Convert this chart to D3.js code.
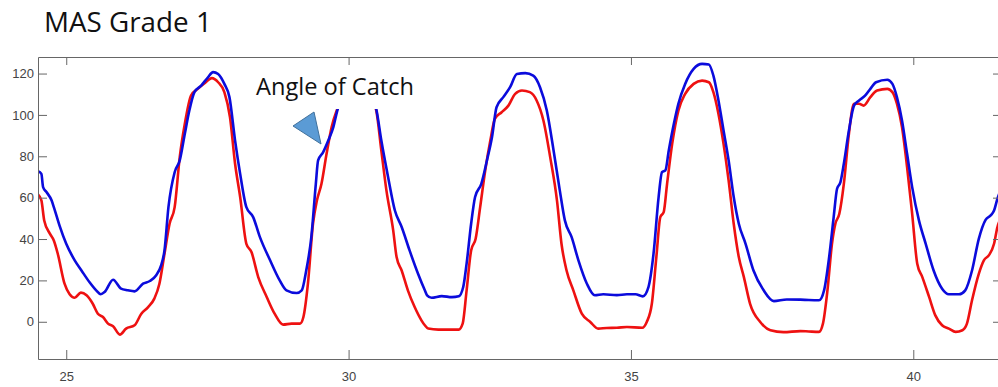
<!DOCTYPE html>
<html>
<head>
<meta charset="utf-8">
<script src="https://cdn.jsdelivr.net/npm/d3@7"></script>
<style>
  html, body { margin: 0; padding: 0; background: #fff; }
  svg { display: block; }
  .axis path, .axis line { stroke: #666; }
  .axis text { fill: #444; font-family: "Liberation Sans", Arial, sans-serif; font-size: 13px; }
</style>
</head>
<body>
<script>
// time (s) and angle (deg)
const blueT = [24.5,24.56,24.59,24.65,24.74,24.79,24.88,25.0,25.15,25.27,25.41,25.53,25.61,25.68,25.83,25.97,26.09,26.21,26.36,26.48,26.59,26.68,26.74,26.81,26.92,27.01,27.1,27.18,27.27,27.39,27.51,27.6,27.69,27.8,27.89,27.99,28.08,28.19,28.31,28.43,28.61,28.78,28.9,29.08,29.17,29.25,29.34,29.42,29.46,29.55,29.64,29.73,29.8,29.9,30.0,30.15,30.3,30.4,30.49,30.58,30.7,30.82,30.94,31.08,31.23,31.35,31.39,31.47,31.65,31.83,31.95,32.03,32.09,32.17,32.24,32.35,32.45,32.54,32.62,32.74,32.86,32.98,33.13,33.27,33.39,33.51,33.63,33.74,33.83,33.95,34.07,34.22,34.36,34.51,34.75,34.93,35.08,35.21,35.31,35.4,35.49,35.55,35.61,35.67,35.76,35.84,35.96,36.11,36.26,36.38,36.46,36.55,36.64,36.73,36.82,36.91,37.03,37.17,37.35,37.53,37.76,38.0,38.15,38.33,38.42,38.51,38.59,38.65,38.71,38.77,38.86,38.95,39.04,39.15,39.24,39.34,39.54,39.63,39.71,39.8,39.89,39.98,40.1,40.22,40.36,40.51,40.63,40.81,40.92,41.04,41.16,41.28,41.37,41.43,41.49,41.55]
const blueV = [72.8,71.5,65.1,62.7,58.7,54.6,46.6,37.7,29.7,24.8,19.2,15.2,13.3,14.4,20.3,16.0,15.2,14.7,18.4,19.7,22.4,27.3,34.5,55.4,72.3,78.0,90.9,102.1,111.0,114.2,118.2,120.7,119.8,115.0,108.6,87.6,71.5,55.4,50.6,40.9,29.7,20.0,15.2,13.9,15.2,24.8,40.9,66.7,78.0,82.0,87.6,94.1,102.1,110,117,120,117,110,102.9,87.6,69.9,53.8,45.8,34.5,23.2,15.2,12.8,11.6,12.4,11.9,12.3,16.8,28.1,47.4,60.3,66.7,78.0,89.3,103.7,108.6,113.4,119.8,120.2,119.0,113.4,102.1,82.8,63.5,49.0,40.9,29.7,18.4,12.8,13.3,12.9,13.3,13.3,12.3,16.8,32.9,60.3,72.3,73.2,82.8,95.7,105.4,115.0,122.3,124.7,124.4,119.0,107.0,92.5,78.0,60.3,47.4,37.7,24.8,15.2,10.0,10.8,10.7,10.5,10.4,15.2,31.3,50.6,64.3,67.5,76.4,92.5,104.5,107.0,109.4,112.6,115.8,117.0,115.0,108.6,97.3,81.2,65.1,49.0,37.7,24.8,16.0,13.3,13.3,15.2,24.8,40.1,49.3,51.4,53.8,59.5,64]

const redT = [24.5,24.56,24.61,24.71,24.78,24.85,24.97,25.06,25.15,25.26,25.36,25.47,25.56,25.65,25.74,25.83,25.95,26.06,26.21,26.33,26.45,26.56,26.65,26.74,26.83,26.92,27.01,27.1,27.21,27.33,27.45,27.58,27.69,27.8,27.9,27.99,28.08,28.19,28.28,28.4,28.55,28.69,28.84,28.99,29.14,29.2,29.28,29.37,29.44,29.52,29.61,29.7,29.79,29.9,30.0,30.15,30.3,30.4,30.49,30.58,30.67,30.79,30.85,30.94,31.05,31.17,31.29,31.35,31.41,31.59,31.77,31.95,32.02,32.09,32.17,32.25,32.33,32.42,32.51,32.59,32.71,32.83,32.95,33.07,33.21,33.33,33.45,33.57,33.69,33.77,33.86,33.98,34.13,34.28,34.42,34.57,34.75,34.93,35.2,35.28,35.37,35.45,35.52,35.58,35.64,35.73,35.84,35.96,36.11,36.26,36.38,36.46,36.55,36.64,36.73,36.82,36.91,37.0,37.11,37.29,37.47,37.7,38.0,38.15,38.33,38.4,38.48,38.56,38.62,38.69,38.77,38.86,38.95,39.04,39.12,39.24,39.36,39.54,39.63,39.71,39.8,39.89,39.98,40.07,40.16,40.28,40.39,40.51,40.63,40.75,40.87,40.95,41.04,41.16,41.25,41.34,41.43,41.49,41.55]
const redV = [61.6,58.7,49.0,42.6,39.3,32.9,18.4,13.3,11.6,14.1,12.8,8.7,3.9,2.3,-0.9,-2.2,-6.2,-3.3,-1.7,3.9,7.1,11.2,18.4,32.9,47.4,55.4,79.6,95.7,109.4,112.6,115.3,117.8,115.8,111.0,98.9,76.4,60.3,37.7,33.7,21.6,12.0,3.9,-1.4,-0.9,-0.9,2.3,18.4,47.4,58.7,66.7,81.2,94.1,102.1,108,114,117,114,108,102.1,82.8,63.5,44.2,31.3,24.8,15.2,7.1,0.7,-1.7,-3.3,-3.8,-3.8,-3.8,-0.9,15.2,34.5,40.1,55.4,73.2,87.6,98.1,101.3,104.5,110.2,111.8,111.0,107.0,97.3,79.6,58.7,37.7,24.8,15.2,3.9,-0.1,-3.3,-3.0,-2.9,-2.5,-2.9,-0.1,8.7,31.3,50.6,53.0,66.7,86.0,102.1,110.2,115.0,116.6,115.8,111.0,100.5,86.0,68.3,47.4,31.3,21.6,8.7,-0.1,-4.1,-5.0,-4.5,-4.7,-4.9,-0.9,15.2,37.7,47.4,52.2,66.7,90.9,105.4,105.4,104.5,108.6,111.8,112.6,111.0,105.4,94.1,74.8,52.2,28.1,21.6,12.0,3.1,-1.7,-3.3,-4.9,-4.1,-0.9,10.4,23.2,29.7,32.2,37.7,45.8,50]

const xTicks = [25, 30, 35, 40]
const yTicks = [0, 20, 40, 60, 80, 100, 120]

const W = 998, H = 387
const m = { left: 38, right: 998, top: 57, bottom: 359 }

const svg = d3.select('body').append('svg').attr('width', W).attr('height', H)

const x = d3.scaleLinear().domain([24.5, 41.5]).range([m.left, m.right])
const y = d3.scaleLinear().domain([-18, 128]).range([m.bottom, m.top])

svg.append('defs').append('clipPath').attr('id', 'plot')
  .append('rect').attr('x', m.left).attr('y', m.top)
  .attr('width', m.right - m.left).attr('height', m.bottom - m.top)

const line = d3.line().x(d => x(d[0])).y(d => y(d[1])).curve(d3.curveMonotoneX)

const lines = svg.append('g').attr('clip-path', 'url(#plot)')
lines.append('path')
  .datum(d3.zip(redT, redV))
  .attr('d', line)
  .attr('fill', 'none').attr('stroke', '#ee1111').attr('stroke-width', 2.6)
lines.append('path')
  .datum(d3.zip(blueT, blueV))
  .attr('d', line)
  .attr('fill', 'none').attr('stroke', '#0b0bdc').attr('stroke-width', 2.6)

// axes, ticks inward like matlab
svg.append('g').attr('class', 'axis')
  .attr('transform', `translate(0,${m.bottom})`)
  .call(d3.axisBottom(x).tickValues(xTicks).tickSize(-9).tickSizeOuter(0).tickPadding(13))
svg.append('g').attr('class', 'axis')
  .attr('transform', `translate(0,${m.top})`)
  .call(d3.axisTop(x).tickValues(xTicks).tickSize(-8).tickSizeOuter(0).tickFormat(''))
svg.append('g').attr('class', 'axis')
  .attr('transform', `translate(${m.left},0)`)
  .call(d3.axisLeft(y).tickValues(yTicks).tickSize(-9).tickSizeOuter(0).tickPadding(4))
svg.append('g').attr('class', 'axis')
  .attr('transform', `translate(${m.right},0)`)
  .call(d3.axisRight(y).tickValues(yTicks).tickSize(-5).tickSizeOuter(0).tickFormat(''))

// annotation box covers the lines
svg.append('rect').attr('x', 250).attr('y', 65).attr('width', 175).attr('height', 44).attr('fill', '#fff')
svg.append('text')
  .attr('x', 256).attr('y', 95)
  .attr('font-family', '"Open Sans", sans-serif').attr('font-size', 23.6)
  .attr('fill', '#111')
  .text('Angle of Catch')

svg.append('path')
  .attr('d', d3.line()([[293, 126], [314, 112], [321, 144]]) + 'Z')
  .attr('fill', '#5b9bd5').attr('stroke', '#41719c').attr('stroke-width', 1)

svg.append('text')
  .attr('x', 44).attr('y', 32)
  .attr('font-family', '"Open Sans", sans-serif').attr('font-size', 27.8)
  .attr('fill', '#111')
  .text('MAS Grade 1')
</script>
</body>
</html>
